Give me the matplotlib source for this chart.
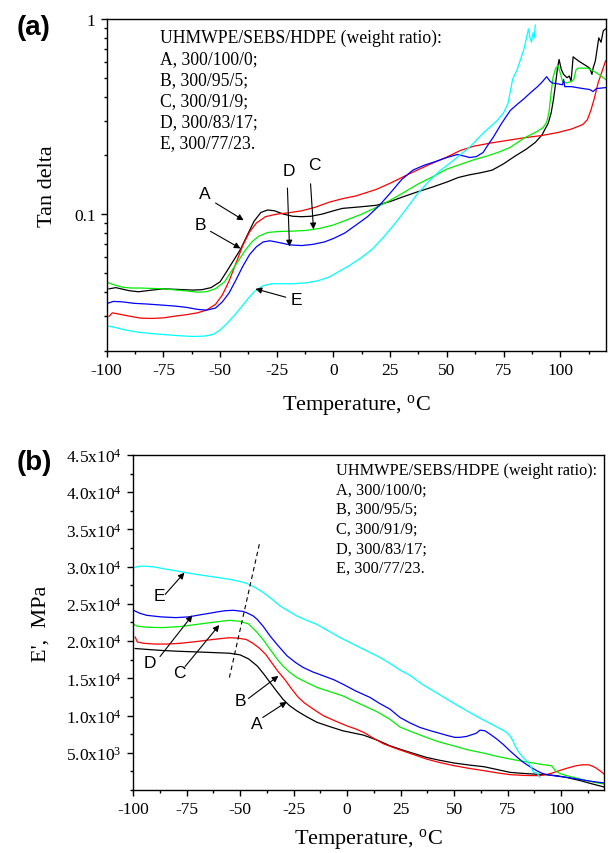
import numpy as np
import matplotlib
matplotlib.use("Agg")
import matplotlib.pyplot as plt
from matplotlib.ticker import FixedLocator, MultipleLocator, NullFormatter, FixedFormatter

plt.rcParams['font.family'] = ['Liberation Serif', 'DejaVu Serif']
plt.rcParams['mathtext.fontset'] = 'custom'
plt.rcParams['mathtext.rm'] = 'Liberation Serif'
plt.rcParams['mathtext.it'] = 'Liberation Serif:italic'
plt.rcParams['axes.unicode_minus'] = False

# ---- tan delta vs temperature, (a) ----
tA = [-99, -96, -90, -86, -80, -75, -68, -62, -58, -54, -50, -47, -44, -41, -38, -35, -32, -29, -26,
      -22, -18, -14, -10, -5, 0, 4, 8, 12, 19, 25, 31, 37, 44, 50, 55, 60, 65, 70, 75, 80, 85, 89, 92,
      94.7, 96, 97, 98, 98.8, 99.5, 100.5, 101.5, 103, 104, 104.8, 105.7, 108, 111, 113, 114, 114.5,
      115.5, 117, 118, 119, 120]
dA = [0.0414, 0.042, 0.0405, 0.0400, 0.0408, 0.0414, 0.0411, 0.0408, 0.0410, 0.0420, 0.0450, 0.0510,
      0.0580, 0.0660, 0.0780, 0.0920, 0.1020, 0.1050, 0.1040, 0.1000, 0.0975, 0.0970, 0.0975, 0.1000,
      0.1040, 0.1070, 0.1080, 0.1090, 0.1110, 0.1160, 0.1230, 0.1300, 0.1380, 0.1460, 0.1540, 0.1590,
      0.1630, 0.1680, 0.1810, 0.1980, 0.2150, 0.2330, 0.2550, 0.292, 0.33, 0.385, 0.47, 0.56, 0.62,
      0.55, 0.52, 0.50, 0.51, 0.48, 0.64, 0.61, 0.58, 0.56, 0.52, 0.56, 0.61, 0.80, 0.76, 0.87, 0.89]

tB = [-99, -97.5, -95, -90, -85, -80, -75, -70, -65, -60, -56, -52, -49, -46, -43, -40, -37, -34, -30,
      -25, -20, -14, -8, -2, 4, 10, 19, 25, 34, 42, 50, 56, 62, 69, 76, 84, 92, 99, 105, 110, 112,
      113.5, 115, 116.7, 118, 120]
dB = [0.0299, 0.0312, 0.0308, 0.0300, 0.0293, 0.0292, 0.0294, 0.0300, 0.0305, 0.0312, 0.0322, 0.0345,
      0.0385, 0.0455, 0.0560, 0.0690, 0.0810, 0.0900, 0.0970, 0.1000, 0.1015, 0.1040, 0.1085, 0.1150,
      0.1200, 0.1240, 0.1340, 0.1440, 0.1620, 0.1790, 0.1960, 0.2120, 0.2230, 0.2310, 0.2380, 0.2460,
      0.2530, 0.2620, 0.2730, 0.2880, 0.305, 0.34, 0.39, 0.47, 0.52, 0.61]

tC = [-100, -97, -93, -89, -85, -80, -75, -70, -65, -60, -56, -52, -48, -45, -42, -39, -36, -33, -29,
      -24, -18, -12, -6, 0, 6, 12, 18, 24, 30, 37, 44, 50, 56, 62, 68, 73, 78, 84, 90, 92.5, 94, 95,
      96, 96.8, 98, 99, 100, 101, 103, 105, 106, 107, 108, 112, 116, 120]
dC = [0.0448, 0.0435, 0.0422, 0.0418, 0.0418, 0.0416, 0.0414, 0.0409, 0.0404, 0.0398, 0.0400, 0.0415,
      0.0450, 0.0510, 0.0575, 0.0650, 0.0720, 0.0770, 0.0805, 0.0815, 0.0818, 0.0825, 0.0845, 0.0880,
      0.0935, 0.0995, 0.1070, 0.1160, 0.1270, 0.1420, 0.1560, 0.1700, 0.1800, 0.1900, 0.1990, 0.2080,
      0.2200, 0.2450, 0.2660, 0.2780, 0.295, 0.33, 0.42, 0.50, 0.56, 0.575, 0.53, 0.48, 0.47, 0.48,
      0.49, 0.55, 0.56, 0.56, 0.53, 0.49]

tD = [-100, -97, -93, -88, -82, -76, -70, -65, -60, -56, -52, -49, -46, -43, -40, -37, -34, -31, -28,
      -24, -19, -14, -9, -4, 0, 5, 10, 15, 20, 25, 30, 35, 40, 45, 50, 54.6, 58, 60, 63, 66, 68, 70.5,
      74, 78, 81, 84, 87, 90, 92, 94, 95.5, 96.5, 99, 101, 101.5, 102, 105, 110, 113, 114.5, 116, 120]
dD = [0.0348, 0.0357, 0.0355, 0.0349, 0.0346, 0.0342, 0.0338, 0.0333, 0.0325, 0.0322, 0.0330, 0.0355,
      0.0395, 0.0460, 0.0540, 0.0620, 0.0680, 0.0720, 0.0730, 0.0715, 0.0695, 0.0690, 0.0700, 0.0720,
      0.0750, 0.0800, 0.0880, 0.0970, 0.1100, 0.1280, 0.1500, 0.1680, 0.1780, 0.1860, 0.1950, 0.2020,
      0.1980, 0.1950, 0.1970, 0.2070, 0.2250, 0.2480, 0.2900, 0.3400, 0.3650, 0.3900, 0.4200, 0.4500,
      0.4750, 0.5060, 0.4800, 0.4700, 0.4650, 0.4600, 0.49, 0.45, 0.4500, 0.4400, 0.4350, 0.425,
      0.4400, 0.4450]

tE = [-100, -96, -92, -86, -80, -74, -68, -62, -57, -53, -50, -47, -44, -41, -38, -35, -31, -27, -22,
      -17, -12, -7, -2, 2, 7, 12, 17, 22, 27, 32, 37, 42, 47, 52, 56, 60, 66, 72, 75, 77, 79, 81, 84,
      86, 86.7, 87.3, 88, 88.5, 89]
dE = [0.0268, 0.0262, 0.0255, 0.0248, 0.0244, 0.0241, 0.0238, 0.0236, 0.0237, 0.0242, 0.0255, 0.0275,
      0.0300, 0.0330, 0.0365, 0.0400, 0.0430, 0.0440, 0.0440, 0.0440, 0.0445, 0.0455, 0.0475, 0.0505,
      0.0545, 0.0595, 0.0660, 0.0760, 0.0890, 0.1060, 0.1270, 0.1470, 0.1670, 0.1850, 0.2020, 0.2200,
      0.2600, 0.3000, 0.3300, 0.3700, 0.4900, 0.5500, 0.7000, 0.8900, 0.80, 0.76, 0.85, 0.80, 0.93]

# ---- storage modulus vs temperature, (b) ----
eA_t = [-99, -92, -86, -78, -70, -62, -55, -50, -46, -42, -39, -36, -33, -30, -27, -23.5, -19, -14,
        -8, -2, 3, 7.6, 14, 20, 25, 30, 37, 43, 50, 57, 64, 70, 76, 81, 87, 93, 98, 103, 109, 114, 120]
eA = [19000, 18850, 18730, 18620, 18540, 18450, 18370, 18150, 17600, 16660, 15600, 14440, 13300,
      12200, 11350, 10630, 9850, 9080, 8500, 7950, 7650, 7370, 6700, 5940, 5450, 5000, 4380, 4000,
      3620, 3350, 3120, 2750, 2370, 2250, 2140, 2050, 1920, 1650, 1250, 850, 400]

eB_t = [-99, -98, -95, -90, -84, -78, -70, -62, -55, -51, -47, -44, -41, -38, -35, -32.5, -29, -26,
        -23, -20, -15, -11, -5, 0, 4, 8, 12, 17, 22, 29, 37, 43, 50, 57, 64, 70, 76, 83, 90, 95, 99,
        103, 107, 110, 112.7, 114.5, 116, 118, 120]
eB = [20550, 19880, 19700, 19600, 19600, 19700, 19950, 20240, 20450, 20400, 20200, 19700, 19050,
      18200, 17000, 16000, 14800, 13600, 12500, 11700, 10700, 9960, 9200, 8600, 8200, 7700, 7000,
      6200, 5650, 4950, 4160, 3700, 3260, 2900, 2590, 2300, 2060, 1950, 1920, 2200, 2590, 2950, 3260,
      3380, 3390, 3200, 3000, 2600, 2140]

eC_t = [-100, -98, -93, -86, -78, -70, -62, -55, -50, -46, -42, -39, -36, -33, -30, -27, -23.5, -19,
        -14, -8, -2, 3, 8, 14, 20, 24.7, 29.4, 37, 43, 49.6, 56, 63.6, 70, 76, 82, 87, 91, 95.5, 97.5,
        100, 102.6, 107, 112, 116, 120]
eC = [22300, 22000, 21850, 21810, 21950, 22250, 22550, 22790, 22650, 22300, 21140, 20100, 18900,
      17700, 16660, 15850, 15110, 14450, 13770, 13200, 12640, 11950, 11300, 10500, 9500, 8450, 7900,
      7060, 6450, 5940, 5420, 4960, 4520, 4160, 3850, 3620, 3420, 3250, 2500, 2150, 1920, 1600, 1250,
      1000, 800]

eD_t = [-100, -97, -93.6, -87, -80, -74, -70, -65, -61, -57, -53, -49, -47, -44, -42, -39, -36, -32,
        -28, -24, -20.5, -16, -11, -6, -2, 4, 10.7, 15, 20, 24.7, 29.4, 34, 39, 43.4, 47, 50.4, 53,
        55.9, 58.5, 60.2, 62.1, 64.4, 67, 69.9, 73, 76, 79, 82.3, 85.5, 88.6, 91, 93.2, 98, 102.6, 110,
        115, 120]
eD = [24170, 23750, 23460, 23250, 23150, 23250, 23460, 23700, 23900, 24080, 24130, 24000, 23820,
      23400, 22920, 21900, 20680, 19300, 18000, 17100, 16450, 15850, 15320, 14780, 14210, 13300, 12430,
      11650, 10860, 9740, 9000, 8400, 7950, 7600, 7300, 7060, 7080, 7200, 7450, 7600, 8040, 7950, 7450,
      6840, 6100, 5270, 4500, 3710, 3100, 2590, 2250, 2060, 1850, 1700, 1350, 1120, 940]

eE_t = [-100, -97, -94.7, -90, -85.8, -78, -70.3, -62, -54.7, -50, -46.9, -43, -39.1, -35, -31.3,
        -27, -23.5, -19, -14.2, -9, -3.3, 2, 7.6, 14, 20, 24.7, 29.4, 35, 40.3, 48, 55.9, 62, 68.3, 72,
        74.5, 76, 77.3, 78.4, 79.6, 80.8, 82.7, 84.6, 86, 87, 88.6, 90]
eE = [29850, 30050, 30070, 29950, 29720, 29330, 28950, 28600, 28290, 28000, 27750, 27200, 26500,
      25600, 24710, 23950, 23370, 22800, 22250, 21400, 20470, 19700, 18900, 18000, 17000, 16100, 15400,
      14200, 13310, 11950, 10630, 9650, 8710, 8150, 7730, 7280, 6700, 5940, 5350, 4830, 4200, 3710,
      3000, 2370, 2300, 1700]

colors = ['black', '#ff0000', '#00ee00', '#0000ff', '#00ffff']
legend_lines = ['UHMWPE/SEBS/HDPE (weight ratio):', 'A, 300/100/0;', 'B, 300/95/5;',
                'C, 300/91/9;', 'D, 300/83/17;', 'E, 300/77/23.']
sans = ['Liberation Sans', 'DejaVu Sans']


def style_axes(ax):
    for s in ax.spines.values():
        s.set_linewidth(1.0)
    ax.tick_params(which='major', direction='out', length=4.5, width=1.0, labelsize=12.5,
                   top=False, right=False)
    ax.tick_params(which='minor', direction='out', length=2.5, width=1.0, top=False, right=False)
    ax.set_xlim(-100, 120)
    ax.xaxis.set_major_locator(MultipleLocator(25))
    ax.xaxis.set_minor_locator(MultipleLocator(12.5))


def arrow(ax, txt, tx, ty, x0, y0, x1, y1, fs):
    ax.text(tx, ty, txt, fontsize=fs, family=sans, ha='center', va='center')
    ax.annotate('', xy=(x1, y1), xytext=(x0, y0),
                arrowprops=dict(arrowstyle='-|>', color='black', lw=0.8,
                                mutation_scale=9, shrinkA=0, shrinkB=0))


fig = plt.figure(figsize=(6.08, 8.54), dpi=100)

# (a) tan delta
ax1 = fig.add_axes([0.1755, 0.5884, 0.8205, 0.3882])
for t, d, c in zip([tA, tB, tC, tD, tE], [dA, dB, dC, dD, dE], colors):
    ax1.plot(t, d, color=c, lw=0.9)
ax1.set_yscale('log')
ax1.set_ylim(0.02, 1)
style_axes(ax1)
ax1.yaxis.set_major_locator(FixedLocator([0.1, 1]))
ax1.yaxis.set_major_formatter(FixedFormatter(['0.1', '1']))
ax1.yaxis.set_minor_locator(FixedLocator([0.02, 0.03, 0.04, 0.05, 0.06, 0.07, 0.08, 0.09,
                                          0.2, 0.3, 0.4, 0.5, 0.6, 0.7, 0.8, 0.9]))
ax1.yaxis.set_minor_formatter(NullFormatter())
ax1.set_xlabel(r'Temperature, $^{\rm o}$C', fontsize=16)
ax1.set_ylabel('Tan delta', fontsize=16)
ax1.xaxis.set_label_coords(0.5, -0.125)
ax1.yaxis.set_label_coords(-0.10, 0.5)
for i, s in enumerate(legend_lines):
    ax1.text(0.107, 0.945 - i * 0.0638, s, transform=ax1.transAxes, fontsize=12.7, va='center')

arrow(ax1, 'A', -56.8, 0.128, -52, 0.114, -39.6, 0.093, 12.5)
arrow(ax1, 'B', -58.6, 0.0888, -54.2, 0.0816, -41, 0.0667, 12.5)
arrow(ax1, 'D', -19.8, 0.167, -20.3, 0.136, -19.4, 0.0683, 12.5)
arrow(ax1, 'C', -8.4, 0.179, -10.1, 0.143, -8.8, 0.0836, 12.5)
arrow(ax1, 'E', -16.5, 0.0363, -21, 0.0375, -34.4, 0.0414, 12.5)
fig.text(34 / 608, 1 - 28 / 854, '(a)', fontsize=20, fontweight='bold', family=sans,
         ha='center', va='center')

# (b) storage modulus
ax2 = fig.add_axes([0.2188, 0.0738, 0.7747, 0.3923])
for t, e, c in zip([eA_t, eB_t, eC_t, eD_t, eE_t], [eA, eB, eC, eD, eE], colors):
    ax2.plot(t, e, color=c, lw=0.9)
ax2.set_ylim(0, 45000)
style_axes(ax2)
yt = [5000, 10000, 15000, 20000, 25000, 30000, 35000, 40000, 45000]
ax2.yaxis.set_major_locator(FixedLocator(yt))
ax2.yaxis.set_major_formatter(FixedFormatter(
    [r'5.0x10$^{3}$'] + [r'%.1fx10$^{4}$' % (v / 1e4) for v in yt[1:]]))
ax2.yaxis.set_minor_locator(MultipleLocator(2500))
ax2.plot([-55, -40.7], [15100, 33400], color='black', lw=0.8, ls=(0, (4, 3)))
ax2.set_xlabel(r'Temperature, $^{\rm o}$C', fontsize=16)
ax2.set_ylabel("E',  MPa", fontsize=16)
ax2.xaxis.set_label_coords(0.5, -0.107)
ax2.yaxis.set_label_coords(-0.175, 0.5)
for i, s in enumerate(legend_lines):
    ax2.text(0.431, 0.956 - i * 0.0587, s, transform=ax2.transAxes, fontsize=11.7, va='center')

arrow(ax2, 'E', -87.7, 26140, -85, 26270, -76, 29180, 12.5)
arrow(ax2, 'D', -92, 17120, -87.4, 17920, -72.3, 23460, 12.5)
arrow(ax2, 'C', -78.4, 15780, -75.7, 16580, -59.7, 22160, 12.5)
arrow(ax2, 'B', -50, 11970, -46.1, 12290, -32.1, 15320, 12.5)
arrow(ax2, 'A', -42.2, 8940, -39.4, 9740, -28.2, 11830, 12.5)
fig.text(34 / 608, 1 - 463 / 854, '(b)', fontsize=20, fontweight='bold', family=sans,
         ha='center', va='center')

fig.savefig('out.png', dpi=100)
